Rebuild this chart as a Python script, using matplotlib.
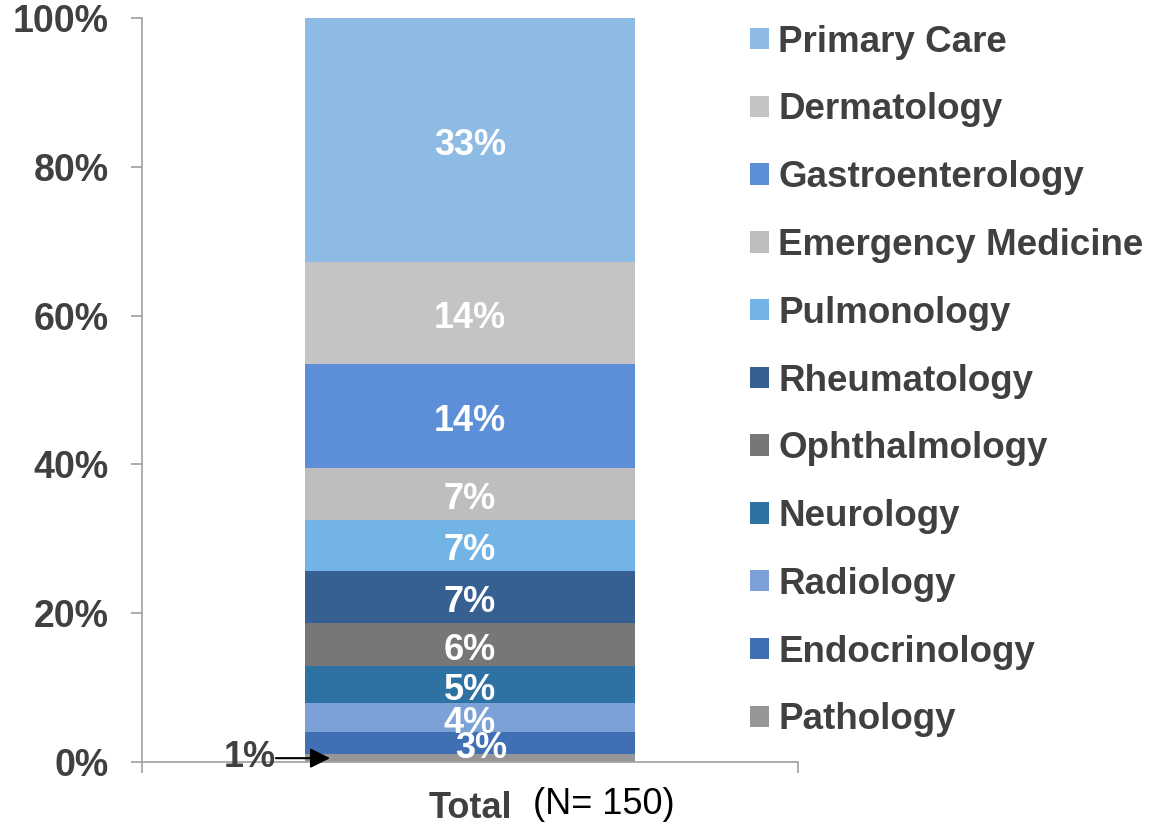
import matplotlib
matplotlib.use("Agg")
import matplotlib.pyplot as plt
from matplotlib.patches import Patch

# Data (bottom to top of the stack)
specialties = ["Pathology", "Endocrinology", "Radiology", "Neurology",
               "Ophthalmology", "Rheumatology", "Pulmonology",
               "Emergency Medicine", "Gastroenterology", "Dermatology",
               "Primary Care"]
shares = [1.03, 2.99, 3.85, 4.97, 5.87, 7.02, 6.85, 6.94, 13.96, 13.77, 32.75]
share_labels = ["1%", "3%", "4%", "5%", "6%", "7%", "7%", "7%", "14%", "14%", "33%"]
colors = ["#969696", "#4070B3", "#7BA1D7", "#2E71A3", "#777777", "#376092",
          "#72B4E6", "#BEBEBE", "#5D8FD8", "#C4C4C4", "#8DBBE3"]
y_ticks = [0, 20, 40, 60, 80, 100]
y_tick_labels = ["0%", "20%", "40%", "60%", "80%", "100%"]

plt.rcParams['font.family'] = ['Liberation Sans', 'DejaVu Sans']
TEXT = "#404040"
AXIS = "#A0A0A0"
FS = 26

fig = plt.figure(figsize=(11.53, 8.27), dpi=100)
ax = fig.add_axes([142 / 1153, 1 - 762 / 827, 656 / 1153, 744 / 827])

bottom = 0
for name, val, lab, col in zip(specialties, shares, share_labels, colors):
    ax.bar(0, val, bottom=bottom, width=0.503, color=col, edgecolor='none')
    mid = bottom + val / 2
    if lab == "1%":
        # small slice gets an outside label with an arrow
        ax.annotate("", xy=(-0.2134, mid), xytext=(-0.296, mid),
                    arrowprops=dict(arrowstyle='-|>', color='black', lw=1.5,
                                    mutation_scale=30, shrinkA=0, shrinkB=0))
        ax.text(-0.296, mid + 0.1, lab, ha='right', va='center', fontsize=FS,
                fontweight='bold', color=TEXT)
    else:
        dx = 8 if lab == "3%" else 0
        ax.annotate(lab, xy=(0, mid), xytext=(dx, -4), textcoords='offset points',
                    ha='center', va='center', fontsize=FS,
                    fontweight='bold', color='white')
    bottom += val

ax.set_xlim(-0.5, 0.5)
ax.set_ylim(0, 100)
ax.set_yticks(y_ticks)
ax.set_yticklabels(y_tick_labels, fontsize=27, fontweight='bold', color=TEXT)
ax.tick_params(axis='y', length=8, width=1.2, color=AXIS, pad=16)
ax.set_xticks([-0.5, 0.5])
ax.set_xticklabels(["", ""])
ax.tick_params(axis='x', length=8, width=1.2, color=AXIS)

for side in ['top', 'right']:
    ax.spines[side].set_visible(False)
for side in ['left', 'bottom']:
    ax.spines[side].set_color(AXIS)
    ax.spines[side].set_linewidth(1.2)

# category label under the bar
fig.text(512 / 1153, 1 - 808 / 827, "Total", ha='right', va='center',
         fontsize=FS, fontweight='bold', color=TEXT)
fig.text(533 / 1153, 1 - 805 / 827, "(N= 150)", ha='left', va='center',
         fontsize=FS, color='black')

# legend, top entry = Primary Care
handles = [Patch(facecolor=c, edgecolor='none') for c in colors[::-1]]
leg = fig.legend(handles, specialties[::-1], loc='upper left',
                 bbox_to_anchor=(735 / 1153, 1 - 10 / 827), frameon=False,
                 prop={'size': 26.5, 'weight': 'bold'}, labelcolor=TEXT,
                 handlelength=0.52, handleheight=0.52, handletextpad=0.25,
                 labelspacing=0.89, borderaxespad=0)

fig.savefig("out.png", dpi=100)
